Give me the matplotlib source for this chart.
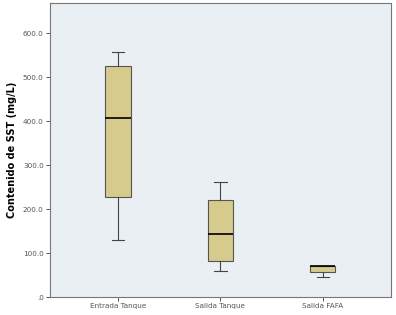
import matplotlib.pyplot as plt

categories = ['Entrada Tanque', 'Salida Tanque', 'Salida FAFA']
whisker_low = [129, 59, 45]
q1 = [227, 81, 58]
median = [408, 143, 70]
q3 = [525, 221, 71]
whisker_high = [557, 261, 71]

stats = []
for i, name in enumerate(categories):
    stats.append({'label': name, 'whislo': whisker_low[i], 'q1': q1[i], 'med': median[i],
                  'q3': q3[i], 'whishi': whisker_high[i]})

fig = plt.figure(figsize=(3.96, 3.15), dpi=100)
ax = fig.add_axes([0.126, 0.057, 0.861, 0.933])
ax.set_facecolor('#e9eff3')

ax.bxp(stats, positions=[1, 2, 3], widths=0.25, showfliers=False, patch_artist=True,
       capwidths=0.12,
       boxprops=dict(facecolor='#d6cb8d', edgecolor='#555555', linewidth=0.8),
       medianprops=dict(color='black', linewidth=1.2),
       whiskerprops=dict(color='#444444', linewidth=0.8),
       capprops=dict(color='#444444', linewidth=0.8))

ax.set_xlim(0.333, 3.667)
ax.set_ylim(0, 668)
ax.set_yticks([0, 100, 200, 300, 400, 500, 600])
ax.set_yticklabels(['.0', '100.0', '200.0', '300.0', '400.0', '500.0', '600.0'], fontsize=5.2, color='#333333')
ax.set_xticks([1, 2, 3])
ax.set_xticklabels(categories, fontsize=5.2, color='#333333')
ax.tick_params(length=3, width=0.7, colors='#555555', pad=1.5)
ax.set_ylabel('Contenido de SST (mg/L)', fontsize=7, fontweight='bold')
ax.yaxis.set_label_coords(-0.097, 0.5)
for s in ax.spines.values():
    s.set_color('#777777')
    s.set_linewidth(0.8)

fig.savefig('out.png', dpi=100)
